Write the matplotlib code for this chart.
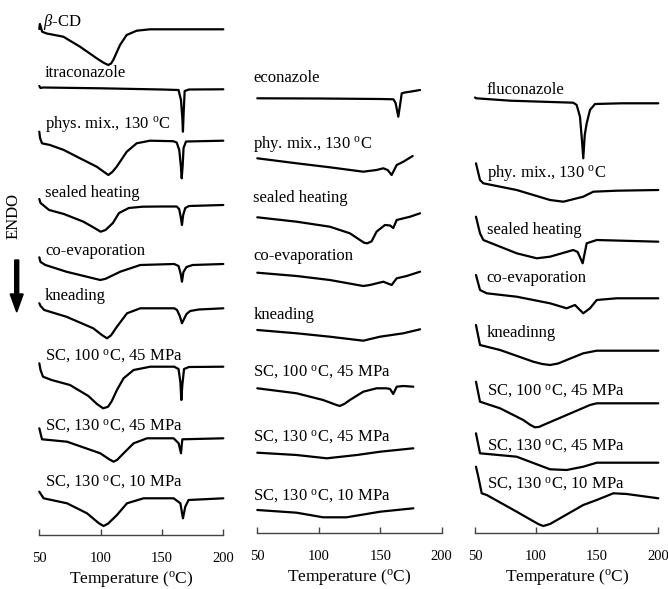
import numpy as np
import matplotlib
matplotlib.use('Agg')
import matplotlib.pyplot as plt
from matplotlib.patches import FancyArrow
from matplotlib.transforms import IdentityTransform

plt.rcParams['font.family'] = ['Liberation Serif', 'DejaVu Serif']
plt.rcParams['mathtext.fontset'] = 'custom'
plt.rcParams['mathtext.rm'] = 'Liberation Serif'
plt.rcParams['mathtext.it'] = 'Liberation Serif:italic'

DEG = '$^{\\mathrm{o}}$C'

# ---------------- data: temperature (°C) and heat flow (a.u., relative to start) -------------
# Panel 1: itraconazole / beta-CD
bcd_T = [50, 50.5, 52.3, 56, 69.6, 83.2, 96.8, 102.5, 106.3, 108.5, 110.3, 115.8, 121.2, 129.4, 140.2, 200]
bcd_hf = [0, 5, -2.7, -4.5, -7.7, -17.7, -29.3, -33.8, -36, -34.5, -31, -16, -6, -1.7, -0.3, -0.3]
itra_T = [50, 51, 53, 100, 150, 163.5, 165.5, 166.6, 167.1, 167.6, 168.5, 172, 200]
itra_hf = [0, -2, -1.5, -2.3, -3.5, -4, -14, -32, -45.7, -29, -5, -3.5, -3.3]
itra_pm_T = [50, 50.6, 52.2, 58.7, 70, 83.2, 96.8, 102, 106.3, 109.5, 113.1, 121.3, 129.4, 140.2, 159.2, 162, 164.1, 165.3, 166.1, 166.9, 167.6, 169.6, 200]
itra_pm_hf = [0, -6.3, -11.6, -13.3, -18.3, -26.6, -35, -39.6, -43.3, -40.3, -35, -20, -11.6, -9, -9.5, -10.8, -18.3, -33.3, -46.6, -33.3, -16.3, -9.8, -9]
itra_sh_T = [50, 51, 58, 70, 86, 95, 100, 104, 110, 115, 123, 134, 150, 162, 164, 165.3, 166.3, 167.3, 169, 172, 200]
itra_sh_hf = [0, -4, -11, -15, -22.7, -29, -32.7, -31, -24, -14, -9, -7.7, -7.5, -7.5, -10, -18, -26, -16, -9, -7, -6]
itra_ce_T = [50, 51, 55, 72, 94, 99.7, 104, 116, 132.3, 160, 163.5, 165.3, 166.3, 167.5, 170, 175, 200]
itra_ce_hf = [0, -4.7, -7.7, -14.4, -21, -22.7, -21.5, -14.4, -7.7, -6.7, -8.7, -16.7, -24.4, -14.7, -9.7, -7.7, -6.7]
itra_kn_T = [50, 51, 54, 72, 94, 101, 105.2, 108.5, 113.3, 121.5, 132.3, 160, 162.3, 164.5, 166.3, 168, 170, 173, 180, 200]
itra_kn_hf = [0, -2.7, -6.7, -13.4, -25, -31.7, -35, -32, -23.4, -10, -5, -5, -6.7, -12.7, -20, -15.7, -10.7, -7.7, -6.2, -5]
itra_sc1_T = [50, 51, 53, 60, 75, 90, 97, 102, 106, 109, 113.3, 118.7, 126.9, 140.5, 160, 163.5, 165, 165.8, 166.6, 168, 172, 200]
itra_sc1_hf = [0, -6.7, -13.4, -16.7, -21.7, -32.7, -40.7, -45, -43.5, -38, -26.7, -15, -6.7, -3.4, -3.4, -5.7, -18.7, -36.7, -21.7, -5.7, -3.7, -3.4]
itra_sc2_T = [50, 52.2, 72.6, 99.7, 107, 110.6, 113.5, 118.7, 126.9, 137.8, 159.5, 163.6, 165.5, 166.6, 200]
itra_sc2_hf = [0, -11, -13.4, -25, -31, -33.4, -31.5, -25, -15, -10, -10, -15, -25, -11, -10]
itra_sc3_T = [50, 53.5, 72.6, 88.9, 98.5, 102.4, 106, 113.3, 121.5, 135, 159.5, 165, 167.1, 169, 171.7, 200]
itra_sc3_hf = [0, -6.6, -11.6, -21.6, -31.5, -34.3, -32, -23.3, -11.6, -6.6, -6.6, -11.6, -26.6, -15, -8.3, -6.6]

# Panel 2: econazole
eco_T = [50, 100, 150, 160.7, 162.5, 164.7, 166, 167.5, 170, 174.3, 182.4]
eco_hf = [0, -0.2, -0.7, -1, -4.7, -18.4, -7.7, 5, 5.8, 6.6, 8.3]
eco_pm_T = [50, 82, 109, 136.2, 147, 152.5, 156, 159.3, 163.4, 168.8, 176.4]
eco_pm_hf = [0, -5, -9, -13.4, -11.7, -10, -11.7, -16.7, -6.7, -3.4, 2.3]
eco_sh_T = [50, 82, 109, 125.3, 133.5, 137, 139.5, 143, 147, 153.8, 158, 160.6, 163.4, 174.3, 182.4]
eco_sh_hf = [0, -4.4, -9.4, -16, -22.7, -25.5, -26, -24, -14.4, -7.7, -8.2, -10.7, -2.7, 0.6, 4]
eco_ce_T = [50, 82, 109, 136.2, 141.6, 152.5, 159.3, 163.4, 171.5, 182.4]
eco_ce_hf = [0, -3.3, -7.3, -13.3, -12.3, -9, -12.3, -5.6, -3.3, 1]
eco_kn_T = [50, 82, 109, 136.2, 149.8, 168.8, 182.4]
eco_kn_hf = [0, -3.3, -6.7, -10.7, -6.7, -3.3, 0.7]
eco_sc1_T = [50, 82, 103.5, 114, 117.1, 121, 125.3, 136.2, 147, 155.2, 158, 160.6, 163.4, 168.8, 176.9]
eco_sc1_hf = [0, -5, -11.7, -16.5, -17.7, -15.5, -11.7, -3.4, 0, 0, -0.7, -5.7, 1.6, 2.3, 1.6]
eco_sc2_T = [50, 82, 106.5, 131, 150, 176.9]
eco_sc2_hf = [0, -2.3, -5.6, -2.3, 1, 4.4]
eco_sc3_T = [50, 82, 103.5, 122.6, 150, 176.9]
eco_sc3_hf = [0, -2.7, -7.3, -7.3, -1.7, 1.7]

# Panel 3: fluconazole
flu_T = [50, 51, 79, 130.4, 133.2, 135.9, 137.5, 138.6, 139.8, 141.4, 144.1, 148.2, 170, 200]
flu_hf = [0, -0.8, -3.2, -5.2, -7.5, -19.2, -42.5, -60.8, -37.5, -25.8, -12.5, -6.5, -5.8, -5.8]
flu_pm_T = [50.8, 54.1, 56.8, 84.1, 111.4, 122.3, 138.6, 146.8, 165.9, 200]
flu_pm_hf = [0, -16.7, -20, -26.7, -36.7, -38.4, -33.4, -28.4, -27.4, -26.7]
flu_sh_T = [50.8, 54.1, 56.8, 84.1, 100.5, 111.4, 130.4, 134, 138.1, 141.4, 149.6, 200]
flu_sh_hf = [0, -16.6, -23.3, -36.6, -41.6, -40, -33.3, -35.3, -46.6, -26.6, -23.3, -25]
flu_ce_T = [50.8, 54.1, 59.6, 84.1, 111.4, 125, 131.8, 138.6, 144.1, 149.6, 165.9, 200]
flu_ce_hf = [0, -15, -18.3, -21.7, -28.3, -33.3, -30, -38.3, -33.3, -25, -23.3, -23.3]
flu_kn_T = [50.8, 54.1, 70.5, 97.7, 105, 111.4, 118, 125, 138.6, 149.6, 200]
flu_kn_hf = [0, -20, -25, -36.7, -39, -40, -38.5, -35, -28.3, -25.7, -25.7]
flu_sc1_T = [50.8, 54.1, 70.5, 89.5, 95, 99, 102.5, 105.9, 125, 144.1, 149.6, 200]
flu_sc1_hf = [0, -20, -26.6, -38.3, -43, -45.6, -45.2, -43.3, -33.3, -23.3, -21.6, -21.6]
flu_sc2_T = [50.8, 54.1, 84.1, 111.4, 125, 138.6, 149.6, 200]
flu_sc2_hf = [0, -20, -23.4, -36, -36.7, -33.4, -29.4, -29.4]
flu_sc3_T = [50.8, 52.7, 55.5, 59.6, 84.1, 102, 105.9, 111.4, 138.6, 149.6, 163.2, 174.1, 200]
flu_sc3_hf = [0, -10, -26.6, -28.3, -45, -57.5, -59.3, -57.3, -38.3, -33.3, -26.6, -27.3, -31.6]

# curve labels
itra_labels = ['$\\beta$-CD', 'itraconazole', 'phys. mix., 130 ' + DEG, 'sealed heating',
               'co-evaporation', 'kneading', 'SC, 100 ' + DEG + ', 45 MPa',
               'SC, 130 ' + DEG + ', 45 MPa', 'SC, 130 ' + DEG + ', 10 MPa']
eco_labels = ['econazole', 'phy. mix., 130 ' + DEG, 'sealed heating', 'co-evaporation',
              'kneading', 'SC, 100 ' + DEG + ', 45 MPa', 'SC, 130 ' + DEG + ', 45 MPa',
              'SC, 130 ' + DEG + ', 10 MPa']
flu_labels = ['fluconazole', 'phy. mix., 130 ' + DEG, 'sealed heating', 'co-evaporation',
              'kneadinng', 'SC, 100 ' + DEG + ', 45 MPa', 'SC, 130 ' + DEG + ', 45 MPa',
              'SC, 130 ' + DEG + ', 10 MPa']
x_ticks = [50, 100, 150, 200]

# ---------------- layout (pixel geometry of the original) ----------------
W, H = 668, 589
fig = plt.figure(figsize=(W / 100, H / 100), dpi=100)

panels = [
    dict(x0=39.3, x1=223.3, axis=535.0,
         curves=[(bcd_T, bcd_hf), (itra_T, itra_hf), (itra_pm_T, itra_pm_hf), (itra_sh_T, itra_sh_hf),
                 (itra_ce_T, itra_ce_hf), (itra_kn_T, itra_kn_hf), (itra_sc1_T, itra_sc1_hf),
                 (itra_sc2_T, itra_sc2_hf), (itra_sc3_T, itra_sc3_hf)],
         start_px=[29, 86, 131.7, 199, 257.3, 303.3, 363.3, 428.3, 491.7],
         labels=itra_labels, lab_x=[43.3] + [45] * 8,
         lab_y=[25.5, 77.3, 128.3, 196.7, 255, 300, 360, 430, 486.7]),
    dict(x0=257.3, x1=441.7, axis=533.3,
         curves=[(eco_T, eco_hf), (eco_pm_T, eco_pm_hf), (eco_sh_T, eco_sh_hf), (eco_ce_T, eco_ce_hf),
                 (eco_kn_T, eco_kn_hf), (eco_sc1_T, eco_sc1_hf), (eco_sc2_T, eco_sc2_hf),
                 (eco_sc3_T, eco_sc3_hf)],
         start_px=[98.3, 158.3, 217.3, 272.7, 330, 388.3, 452.7, 510],
         labels=eco_labels, lab_x=[253.3] * 8,
         lab_y=[81.7, 148.3, 201.7, 260, 319.3, 376.7, 441.7, 500]),
    dict(x0=475, x1=658.3, axis=533.3,
         curves=[(flu_T, flu_hf), (flu_pm_T, flu_pm_hf), (flu_sh_T, flu_sh_hf), (flu_ce_T, flu_ce_hf),
                 (flu_kn_T, flu_kn_hf), (flu_sc1_T, flu_sc1_hf), (flu_sc2_T, flu_sc2_hf),
                 (flu_sc3_T, flu_sc3_hf)],
         start_px=[97.5, 163.3, 216.7, 275, 325, 381.7, 433.3, 466.7],
         labels=flu_labels, lab_x=[486.7] * 8,
         lab_y=[94, 176.7, 234, 281.7, 336.7, 395, 450, 488.3]),
]

for p in panels:
    ax = fig.add_axes([p['x0'] / W, (H - p['axis']) / H, (p['x1'] - p['x0']) / W, p['axis'] / H])
    ax.set_xlim(50, 200)
    ax.set_ylim(0, p['axis'])
    ax.patch.set_alpha(0)
    for s in ['top', 'left', 'right']:
        ax.spines[s].set_visible(False)
    ax.spines['bottom'].set_linewidth(1.0)
    ax.spines['bottom'].set_color('#444444')
    ax.set_yticks([])
    ax.set_xticks(x_ticks)
    ax.tick_params(axis='x', direction='in', length=4.5, width=1, color='#444444',
                   labelsize=10.5, pad=12.3)
    ax.set_xlabel('Temperature (' + DEG + ')', fontsize=12.5, labelpad=2.5)
    for (T, hf), sp in zip(p['curves'], p['start_px']):
        off = p['axis'] - sp
        ax.plot(T, np.asarray(hf) + off, color='black', lw=1.6, clip_on=False,
                solid_joinstyle='round', solid_capstyle='round')
    scale = 150.0 / (p['x1'] - p['x0'])
    for lab, lx, ly in zip(p['labels'], p['lab_x'], p['lab_y']):
        ax.text(50 + (lx - p['x0']) * scale, p['axis'] - ly, lab, fontsize=12,
                ha='left', va='baseline')

# ENDO label and arrow
fig.text(13.5 / W, 1 - 216 / H, 'ENDO', rotation=90, ha='center', va='center', fontsize=12)
arrow = FancyArrow(16.7, H - 260, 0, -52, width=4, head_width=13, head_length=18,
                   length_includes_head=True, color='black', transform=IdentityTransform())
fig.add_artist(arrow)

fig.savefig('out.png', dpi=100)
